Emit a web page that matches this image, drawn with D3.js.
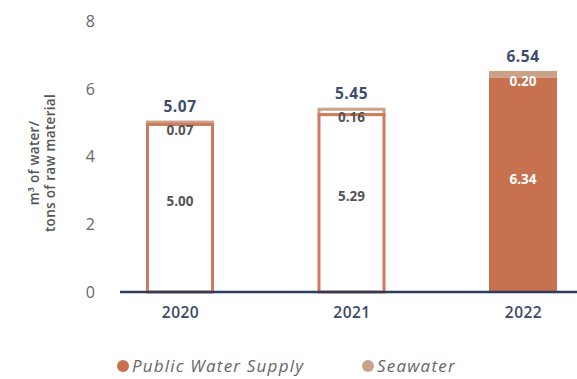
<!DOCTYPE html>
<html>
<head>
<meta charset="utf-8">
<script src="https://cdn.jsdelivr.net/npm/d3@7"></script>
<style>
  body { margin: 0; background: #fff; }
  svg { display: block; font-family: "Open Sans", "Lato", sans-serif; }
</style>
</head>
<body>
<svg id="chart" width="577" height="379"></svg>
<script>
// Water intensity per ton of raw material, by source
const years = ["2020", "2021", "2022"];
const publicSupply = [5.00, 5.29, 6.34];
const seawater = [0.07, 0.16, 0.20];
const totals = [5.07, 5.45, 6.54];
const yTicks = [0, 2, 4, 6, 8];
const filledYears = ["2022"];

const colPublic = "#c8714f";
const colSea = "#c9a389";
const navy = "#2b3d5c";

const svg = d3.select("#chart");

const y = d3.scaleLinear().domain([0, 8]).range([292, 21.5]);
const x = d3.scalePoint().domain(years).range([180, 523]);
const barW = 68;

// y tick labels
const yAxis = d3.axisLeft(y).tickValues(yTicks).tickSize(0).tickPadding(0).tickFormat(d3.format("d"));
const gy = svg.append("g").attr("transform", "translate(95,0)").call(yAxis);
gy.select(".domain").remove();
gy.selectAll("text").attr("fill", "#666").attr("font-size", 16).attr("font-family", "Open Sans, sans-serif");

// y axis title
const title = svg.append("text")
  .attr("transform", "translate(42,163) rotate(-90)")
  .attr("text-anchor", "middle")
  .attr("fill", "#555")
  .attr("font-size", 13.5)
  .attr("font-weight", 600)
  .attr("letter-spacing", 0.3);
title.append("tspan").attr("x", 0).attr("dy", "-0.2em").text("m³ of water/");
title.append("tspan").attr("x", 0).attr("dy", "1.15em").text("tons of raw material");

// bars
const rows = years.map((yr, i) => ({ yr, pub: publicSupply[i], sea: seawater[i], total: totals[i], filled: filledYears.includes(yr) }));

const g = svg.append("g");
rows.forEach(r => {
  const cx = x(r.yr);
  const x0 = cx - barW / 2;
  const yPubTop = y(r.pub);
  const ySeaTop = y(r.pub + r.sea);
  if (r.filled) {
    g.append("rect").attr("x", x0).attr("y", ySeaTop).attr("width", barW).attr("height", yPubTop - ySeaTop).attr("fill", colSea);
    g.append("rect").attr("x", x0).attr("y", yPubTop).attr("width", barW).attr("height", y(0) - yPubTop).attr("fill", colPublic);
  } else {
    const sw = 3;
    g.append("rect").attr("x", x0 + sw / 2).attr("y", ySeaTop + sw / 2).attr("width", barW - sw).attr("height", Math.max(0, yPubTop - ySeaTop))
      .attr("fill", "none").attr("stroke", colSea).attr("stroke-width", sw);
    g.append("rect").attr("x", x0 + sw / 2).attr("y", yPubTop + sw / 2).attr("width", barW - sw).attr("height", y(0) - yPubTop - sw / 2)
      .attr("fill", "#fff").attr("stroke", "#d07b5b").attr("stroke-width", sw);
  }
  const segCol = r.filled ? "#fff" : "#555";
  // public supply value
  g.append("text").attr("x", cx).attr("y", (yPubTop + y(0)) / 2 - 6).attr("dy", "0.35em")
    .attr("text-anchor", "middle").attr("fill", segCol).attr("font-size", 13.5).attr("font-weight", 700)
    .text(r.pub.toFixed(2));
  // seawater value
  g.append("text").attr("x", cx).attr("y", ySeaTop + 10).attr("dy", "0.35em")
    .attr("text-anchor", "middle").attr("fill", segCol).attr("font-size", 13.5).attr("font-weight", 700)
    .text(r.sea.toFixed(2));
  // total
  g.append("text").attr("x", cx).attr("y", ySeaTop - 14).attr("dy", "0.35em")
    .attr("text-anchor", "middle").attr("fill", "#3d4d6d").attr("font-size", 15.5).attr("font-weight", 700)
    .attr("letter-spacing", 0.5)
    .text(r.total.toFixed(2));
});

// baseline
svg.append("line").attr("x1", 120).attr("x2", 577).attr("y1", y(0)).attr("y2", y(0))
  .attr("stroke", navy).attr("stroke-width", 2.5);

// x labels
const xAxis = d3.axisBottom(x).tickSize(0).tickPadding(0);
const gx = svg.append("g").attr("transform", `translate(0,${y(0) + 15})`).call(xAxis);
gx.select(".domain").remove();
gx.selectAll("text").attr("fill", "#3b4a66").attr("font-size", 15.5).attr("font-weight", 600)
  .attr("letter-spacing", 0.5)
  .attr("font-family", "Open Sans, sans-serif").attr("dy", "0.71em");

// legend
const legend = [
  { label: "Public Water Supply", color: colPublic, x: 123 },
  { label: "Seawater", color: colSea, x: 368 }
];
const lg = svg.append("g");
legend.forEach(l => {
  lg.append("circle").attr("cx", l.x).attr("cy", 366).attr("r", 6).attr("fill", l.color);
  lg.append("text").attr("x", l.x + 9).attr("y", 366).attr("dy", "0.35em")
    .attr("fill", "#666").attr("font-size", 17).attr("font-style", "italic")
    .attr("letter-spacing", 1.2).text(l.label);
});
</script>
</body>
</html>
